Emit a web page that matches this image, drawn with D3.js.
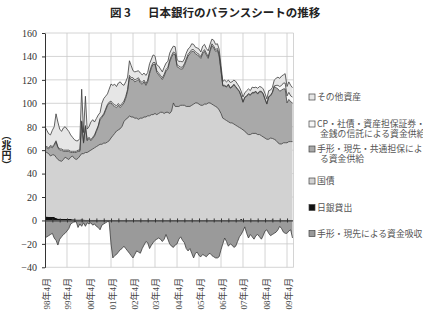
<!DOCTYPE html>
<html>
<head>
<meta charset="utf-8">
<script src="https://cdn.jsdelivr.net/npm/d3@7"></script>
<style>
body { margin: 0; background: #fff; overflow: hidden }
svg { display: block }
</style>
</head>
<body>
<svg id="chart" width="423" height="313"></svg>
<script>
// monthly, 1998年4月 .. 2009年7月 (兆円)
const startMonth = new Date(1998, 3, 1)

const kashidashi = [
    3.4, 3.4, 3.2, 3.2, 3, 3, 2, 1.6, 1.5, 1.5, 1.4, 1.4,
    1.3, 1.2, 1.2, 1, 1, 0.8, 0.8, 0.8, 1, 0.8, 0.6, 0.6,
    0.6, 0.6, 0.5, 0.5, 0.5, 0.5, 0.5, 0.5, 0.5, 0.5, 0.5, 0.5,
    0.4, 0.3, 0.3, 0.3, 0.3, 0.3, 0.3, 0.3, 0.3, 0.3, 0.3, 0.3,
    0.3, 0.3, 0.3, 0.3, 0.3, 0.3, 0.3, 0.3, 0.3, 0.3, 0.3, 0.3,
    0.3, 0.3, 0.3, 0.3, 0.3, 0.3, 0.3, 0.3, 0.3, 0.3, 0.3, 0.3,
    0.3, 0.3, 0.3, 0.3, 0.3, 0.3, 0.3, 0.3, 0.3, 0.3, 0.3, 0.3,
    0.3, 0.3, 0.3, 0.3, 0.3, 0.3, 0.3, 0.3, 0.3, 0.3, 0.3, 0.3,
    0.3, 0.3, 0.3, 0.3, 0.3, 0.3, 0.3, 0.3, 0.3, 0.3, 0.3, 1.5,
    0.3, 0.3, 0.3, 0.3, 0.3, 0.3, 0.3, 0.3, 0.3, 0.3, 0.3, 0.3,
    0.3, 0.3, 0.3, 0.3, 1, 0.3, 0.3, 0.3, 0.3, 0.3, 0.3, 0.3,
    0.3, 0.3, 0.3, 0.3
]

const kokusai = [
    55.1, 54.6, 53.8, 51.8, 53, 53, 52, 50.4, 49.5, 49, 50.6, 52.6,
    51.7, 50.8, 52.8, 54, 52, 51.2, 52.2, 54.2, 56, 56.2, 57.4, 57.4,
    58.4, 59.4, 60.5, 61.5, 62.5, 63.5, 64.5, 64.5, 65.5, 65.5, 66.5, 67.5,
    70, 72, 74, 76, 77, 78, 80, 84, 86, 87, 89, 88,
    88, 87, 87, 86, 87, 87, 88, 88, 89, 89, 90, 90,
    91, 90, 91, 92, 92, 91, 92, 92, 91, 93, 100, 97,
    97, 97, 98, 98, 98, 97, 97, 97, 98, 99, 100, 100,
    99, 98, 98, 99, 99, 100, 100, 99, 98, 97, 96, 94,
    91, 87, 86, 85, 84, 83, 83, 82, 81, 80, 79, 77,
    77, 76, 74, 73, 73, 74, 74, 74, 73, 73, 72, 71,
    70, 69, 69, 70, 69, 69, 68, 66, 65, 65, 66, 66,
    66, 67, 67, 67
]

const tegata = [
    4, 4, 4, 8, 6, 8, 13, 10, 9, 9.5, 7, 5,
    6, 7, 4, 3, 5, 6, 6, 4, 27, 9, 22, 10,
    11, 8, 9, 10, 13, 16, 21, 23, 24, 28, 31, 32,
    30, 26, 23, 20, 21, 18, 18, 16, 18, 23, 33, 32,
    32, 31, 32, 34, 30, 29, 30, 27, 29, 36, 40, 43,
    42, 36, 33, 30, 28, 32, 35, 37, 44, 46, 42, 44,
    34, 33, 31, 31, 34, 39, 43, 45, 46, 45, 42, 41,
    41, 40, 44, 45, 42, 38, 44, 50, 49, 47, 49, 46,
    36.5, 27.5, 28.5, 28.5, 31.5, 29.5, 30.5, 33.5, 32.5, 31.5, 30.5, 27.5,
    23.5, 28.5, 31.5, 34.5, 33.5, 34.5, 34.5, 35.5, 34.5, 36.5, 37.5, 36.5,
    33, 30, 36, 36, 39, 45, 45, 46, 45, 46, 46, 46,
    34, 36, 34, 33
]

const cp = [
    1, 1, 1, 1, 1, 1, 1, 1, 1, 1, 1, 1,
    1, 1, 1, 1, 1, 1, 1, 1, 1, 1, 1, 1,
    1, 1, 1, 1, 1, 1, 1, 1, 1, 1, 1, 1,
    1.5, 1.5, 1.5, 1.5, 1.5, 1.5, 1.5, 1.5, 1.5, 1.5, 1.5, 1.5,
    1.5, 1.5, 1.5, 1.5, 1.5, 1.5, 1.5, 1.5, 1.5, 1.5, 1.5, 1.5,
    1.5, 1.5, 1.5, 1.5, 1.5, 1.5, 1.5, 1.5, 1.5, 1.5, 1.5, 1.5,
    1.5, 1.5, 1.5, 1.5, 1.5, 1.5, 1.5, 1.5, 1.5, 1.5, 1.5, 1.5,
    1.5, 1.5, 1.5, 1.5, 1.5, 1.5, 1.5, 1.5, 1.5, 1.5, 1.5, 1.5,
    0.5, 0.5, 0.5, 0.5, 0.5, 0.5, 0.5, 0.5, 0.5, 0.5, 0.5, 0.5,
    0.5, 0.5, 0.5, 0.5, 0.5, 0.5, 0.5, 0.5, 0.5, 0.5, 0.5, 0.5,
    0.5, 0.5, 0.5, 0.5, 0.5, 0.5, 2, 3, 4, 4, 5, 5,
    6, 6, 5, 5
]

const sonota = [
    16.5, 14, 12, 9, 14, 15, 23, 21, 17, 15, 19, 20,
    18, 16, 14, 12, 10, 9, 8, 10, 27, 8, 25, 9,
    9, 15, 15, 11, 10, 9, 5, 11, 13, 11, 9, 11,
    14.5, 15.5, 17.5, 16.5, 17.5, 20.5, 16.5, 13.5, 12.5, 10.5, 12.5, 10.5,
    6, 7, 6.5, 6, 7, 6.5, 6, 7, 6.5, 7, 6, 6.5,
    5.5, 5, 6, 5.5, 5, 6, 5.5, 5, 6, 5.5, 5, 5.5,
    4.5, 4, 5, 4.5, 4, 5, 4.5, 4, 5, 4.5, 4, 4.5,
    4.5, 4, 5, 4.5, 4, 5, 4.5, 4, 5, 4.5, 4, 4.5,
    4, 3.5, 4.5, 4, 3.5, 4.5, 4, 3.5, 4.5, 4, 3.5, 4,
    4, 3.5, 4.5, 4, 3.5, 4.5, 4, 3.5, 4.5, 4, 3.5, 4,
    4.5, 4, 5, 4.5, 4, 5, 6, 7, 7, 8, 7, 8,
    8, 9, 9, 8
]

// 手形・現先による資金吸収 (negative side)
const kyushu = [
    -15, -14, -13, -12, -11, -15, -17, -21, -16, -14, -12, -11,
    -9, -7, -3, -2, -1, -1, -6, -3, -5, -2, -5, -2,
    -3, -2, -4, -3, -5, -6, -8, -4, -3, -2, -1, -1,
    -20, -32, -30, -29, -27, -25, -24, -22, -24, -26, -28, -30,
    -32, -29, -26, -27, -28, -24, -21, -18, -19, -24, -21, -19,
    -17, -16, -15, -16, -18, -16, -12, -16, -20, -22, -23, -21,
    -20, -16, -14, -17, -19, -24, -26, -24, -28, -32, -28, -27,
    -30, -31, -29, -30, -31, -29, -28, -30, -31, -32, -32, -31,
    -25, -20, -15, -18, -22, -20, -21, -23, -22, -18, -14, -12,
    -9, -5.5, -11, -15, -12, -14, -16, -13, -12, -14, -16, -13,
    -9, -8, -11, -13, -12, -11, -10, -8, -5, -7, -10, -11,
    -11, -9, -8, -15
]

const yTicks = [-40, -20, 0, 20, 40, 60, 80, 100, 120, 140, 160]
const xTickLabels = ['98年4月', '99年4月', '00年4月', '01年4月', '02年4月', '03年4月',
    '04年4月', '05年4月', '06年4月', '07年4月', '08年4月', '09年4月']

const legendItems = [
    { lines: ['その他資産'], fill: '#e6e6e6', y: 97 },
    { lines: ['CP・社債・資産担保証券・', '金銭の信託による資金供給'], fill: '#f7f7f7', y: 124 },
    { lines: ['手形・現先・共通担保によ', 'る資金供給'], fill: '#a9a9a9', y: 149 },
    { lines: ['国債'], fill: '#d2d2d2', y: 181 },
    { lines: ['日銀貸出'], fill: '#111', y: 207.5 },
    { lines: ['手形・現先による資金吸収'], fill: '#999', y: 233.5 }
]

const keys = ['kashidashi', 'kokusai', 'tegata', 'cp', 'sonota']
const fills = { kashidashi: '#111', kokusai: '#d2d2d2', tegata: '#a9a9a9', cp: '#f7f7f7', sonota: '#e6e6e6' }

const months = kokusai.map((v, i) => d3.timeMonth.offset(startMonth, i))
const rows = months.map((date, i) => ({
    date,
    kashidashi: kashidashi[i],
    kokusai: kokusai[i],
    tegata: tegata[i],
    cp: cp[i],
    sonota: sonota[i],
    kyushu: kyushu[i]
}))

const plotLeft = 45, plotRight = 292.5, plotTop = 33, plotBottom = 267.3

const x = d3.scaleTime().domain([startMonth, months[months.length - 1]]).range([plotLeft, plotRight])
const y = d3.scaleLinear().domain([-40, 160]).range([plotBottom, plotTop])

const svg = d3.select('#chart')
const serif = '"Liberation Serif", "DejaVu Serif", serif'
const jp = '"Noto Sans CJK JP", sans-serif'

// title
svg.append('text').attr('x', 110).attr('y', 16.5)
    .attr('font-family', jp).attr('font-weight', 'bold').attr('font-size', 11.5).attr('fill', '#222')
    .text('図 3')
svg.append('text').attr('x', 148).attr('y', 16.5)
    .attr('font-family', jp).attr('font-weight', 'bold').attr('font-size', 11.5).attr('fill', '#222')
    .text('日本銀行のバランスシートの推移')

// grid
const aprils = xTickLabels.map((t, i) => d3.timeYear.offset(startMonth, i))
const grid = svg.append('g').attr('stroke', '#c9c9c9').attr('stroke-width', 0.8)
grid.selectAll('line.h').data(yTicks).join('line')
    .attr('x1', plotLeft).attr('x2', 293.5)
    .attr('y1', d => y(d)).attr('y2', d => y(d))
grid.selectAll('line.v').data(aprils.slice(1)).join('line')
    .attr('x1', d => x(d)).attr('x2', d => x(d))
    .attr('y1', plotTop).attr('y2', plotBottom)
grid.append('line').attr('x1', 293.5).attr('x2', 293.5).attr('y1', plotTop).attr('y2', plotBottom)

// stacked areas
const stacked = d3.stack().keys(keys)(rows)
const area = d3.area()
    .x(d => x(d.data.date))
    .y0(d => y(d[0]))
    .y1(d => y(d[1]))
const topLine = d3.line()
    .x(d => x(d.data.date))
    .y(d => y(d[1]))

svg.append('g').selectAll('path').data(stacked).join('path')
    .attr('d', area)
    .attr('fill', d => fills[d.key])

svg.append('g').selectAll('path').data(stacked.filter(s => s.key !== 'kashidashi')).join('path')
    .attr('d', topLine)
    .attr('fill', 'none')
    .attr('stroke', '#3c3c3c')
    .attr('stroke-width', 0.8)

// negative side
svg.append('path').datum(rows)
    .attr('d', d3.area().x(d => x(d.date)).y0(y(0)).y1(d => y(d.kyushu)))
    .attr('fill', '#9a9a9a')
svg.append('path').datum(rows)
    .attr('d', d3.line().x(d => x(d.date)).y(d => y(d.kyushu)))
    .attr('fill', 'none').attr('stroke', '#3c3c3c').attr('stroke-width', 0.8)

// zero line with small ticks
const zeroAxis = svg.append('g')
    .attr('transform', `translate(0,${y(0)})`)
    .call(d3.axisBottom(x)
        .tickValues(d3.timeMonth.range(startMonth, months[months.length - 1], 4))
        .tickSize(2).tickSizeOuter(0).tickFormat(''))
zeroAxis.select('.domain').attr('stroke', '#333')
zeroAxis.selectAll('.tick line').attr('y1', -2).attr('y2', 2).attr('stroke', '#333')

// left axis
const yAxis = svg.append('g')
    .attr('transform', `translate(${plotLeft},0)`)
    .call(d3.axisLeft(y).tickValues(yTicks).tickSize(3).tickSizeOuter(0))
yAxis.select('.domain').attr('stroke', '#333')
yAxis.selectAll('.tick line').attr('stroke', '#333')
yAxis.selectAll('.tick text')
    .attr('x', -8).attr('dy', '0.34em')
    .attr('font-family', serif).attr('font-size', 10).attr('fill', '#333')

// x labels
svg.append('g').selectAll('text').data(aprils).join('text')
    .attr('transform', d => `translate(${x(d) + 4.5},278) rotate(-90)`)
    .attr('text-anchor', 'end')
    .attr('font-family', `${serif}, ${jp}`).attr('font-size', 9).attr('fill', '#444')
    .text((d, i) => xTickLabels[i])

// unit label
svg.append('text')
    .attr('x', 6.5).attr('y', 150)
    .attr('text-anchor', 'middle')
    .style('writing-mode', 'vertical-rl')
    .attr('font-family', jp).attr('font-weight', 'bold').attr('font-size', 10).attr('fill', '#222')
    .text('（兆円）')

// legend
const legend = svg.append('g').selectAll('g').data(legendItems).join('g')
    .attr('transform', d => `translate(309,${d.y})`)
legend.append('rect')
    .attr('x', 0).attr('y', -3).attr('width', 6).attr('height', 6)
    .attr('fill', d => d.fill).attr('stroke', '#444').attr('stroke-width', 0.7)
legend.each(function (d) {
    d3.select(this).selectAll('text').data(d.lines).join('text')
        .attr('x', (t, i) => i === 0 ? 8 : 11)
        .attr('y', (t, i) => i * 10 + 3.3)
        .attr('font-family', jp).attr('font-size', 8.8).attr('fill', '#555')
        .text(t => t)
})
</script>
</body>
</html>
